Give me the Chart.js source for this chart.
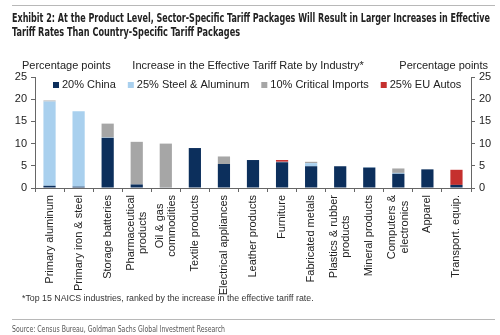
<!DOCTYPE html>
<html>
<head>
<meta charset="utf-8">
<script src="https://cdn.jsdelivr.net/npm/chart.js@4"></script>
<style>
  body { margin: 0; background: #fff; }
  #wrap { position: relative; width: 500px; height: 335px; overflow: hidden; }
  #chart { position: absolute; left: 0; top: 0; }
  .rule { position: absolute; left: 12px; width: 483px; height: 1px; background: #b8b8b8; }
  .fit { position: absolute; white-space: nowrap; transform-origin: 0 0;
    font-family: "Liberation Sans Narrow", "DejaVu Sans Condensed", sans-serif; }
  .title { left: 12px; font-weight: bold; font-size: 13px; color: #222; }
  #note { position: absolute; left: 22px; top: 293px; font-family: "Liberation Sans", Arial, sans-serif;
    font-size: 8.8px; color: #333; }
  #source { left: 12px; top: 323px; font-size: 9.5px; color: #555; }
</style>
</head>
<body>
<div id="wrap">
  <canvas id="chart" width="500" height="335"></canvas>
  <div class="rule" style="top:5px"></div>
  <div class="fit title" style="top:10px" data-w="478">Exhibit 2: At the Product Level, Sector-Specific Tariff Packages Will Result in Larger Increases in Effective</div>
  <div class="fit title" style="top:24px" data-w="228">Tariff Rates Than Country-Specific Tariff Packages</div>
  <div id="note">*Top 15 NAICS industries, ranked by the increase in the effective tariff rate.</div>
  <div class="rule" style="top:319px"></div>
  <div class="fit" id="source" data-w="213">Source: Census Bureau, Goldman Sachs Global Investment Research</div>
</div>
<script>
// squeeze the condensed texts to the widths of the original
document.querySelectorAll(".fit").forEach(el => {
    const w = el.getBoundingClientRect().width;
    el.style.transform = "scaleX(" + (parseFloat(el.dataset.w) / w) + ")";
});

// industries (multi-line labels as arrays)
const industries = [
    ["Primary aluminum"], ["Primary iron & steel"], ["Storage batteries"],
    ["Pharmaceutical", "products"], ["Oil & gas", "commodities"], ["Textile products"],
    ["Electrical appliances"], ["Leather products"], ["Furniture"], ["Fabricated metals"],
    ["Plastics & rubber", "products"], ["Mineral products"], ["Computers &", "electronics"],
    ["Apparel"], ["Transport. equip."]
];

// percentage points
const china20    = [0.5, 0.3, 11.3, 0.8, 0.1, 9.0, 5.4, 6.3, 5.8, 4.9, 4.9, 4.6, 3.2, 4.2, 0.7];
const steelAlu25 = [19.0, 17.0, 0.1, 0, 0, 0, 0, 0, 0.1, 0.7, 0, 0.1, 0.2, 0, 0];
const critical10 = [0.2, 0, 3.1, 9.6, 9.9, 0, 1.7, 0, 0, 0.3, 0, 0, 1.0, 0, 0];
const euAutos25  = [0, 0, 0, 0, 0, 0, 0, 0, 0.4, 0, 0, 0, 0, 0, 3.4];

const yTicks = [0, 5, 10, 15, 20, 25];

const font = "'Liberation Sans', Arial, sans-serif";
const axisColor = "#666";

// draws the header texts, the legend and the x labels
const extrasPlugin = {
    id: "extras",
    afterDraw(chart) {
        const ctx = chart.ctx;
        const area = chart.chartArea;
        ctx.save();
        ctx.fillStyle = "#222";
        ctx.font = "11px " + font;
        ctx.textBaseline = "middle";

        // header row
        ctx.textAlign = "left";
        ctx.fillText("Percentage points", 22, 66);
        ctx.textAlign = "right";
        ctx.fillText("Percentage points", 488, 66);
        ctx.textAlign = "center";
        ctx.fillText("Increase in the Effective Tariff Rate by Industry*", 248, 66);

        // legend
        let x = 53;
        ctx.textAlign = "left";
        chart.data.datasets.forEach(ds => {
            ctx.fillStyle = ds.backgroundColor;
            ctx.fillRect(x, 82, 6, 6);
            ctx.fillStyle = "#222";
            ctx.fillText(ds.label, x + 9, 85);
            x += 9 + ctx.measureText(ds.label).width + 12;
        });

        // rotated category labels, lines centred on each other
        const xScale = chart.scales.x;
        const lh = 12.5;
        industries.forEach((lines, i) => {
            const px = xScale.getPixelForValue(i);
            const maxW = Math.max(...lines.map(l => ctx.measureText(l).width));
            ctx.save();
            ctx.translate(px, area.bottom + 7);
            ctx.rotate(-Math.PI / 2);
            ctx.textAlign = "center";
            lines.forEach((l, j) => {
                ctx.fillText(l, -maxW / 2, (j - (lines.length - 1) / 2) * lh);
            });
            ctx.restore();
        });
        ctx.restore();
    }
};

const yAxisBase = {
    min: 0,
    max: 25,
    grid: { drawOnChartArea: false, tickLength: 4, color: axisColor },
    border: { color: axisColor },
    afterBuildTicks: s => { s.ticks = yTicks.map(v => ({ value: v })); }
};

new Chart(document.getElementById("chart").getContext("2d"), {
    type: "bar",
    data: {
        labels: industries,
        datasets: [
            { label: "20% China", data: china20, backgroundColor: "#0c2f5c" },
            { label: "25% Steel & Aluminum", data: steelAlu25, backgroundColor: "#a9d0ee" },
            { label: "10% Critical Imports", data: critical10, backgroundColor: "#a6a6a6" },
            { label: "25% EU Autos", data: euAutos25, backgroundColor: "#c5302e" }
        ]
    },
    options: {
        responsive: false,
        animation: false,
        layout: { padding: { top: 77, left: 0, right: 0, bottom: 0 } },
        datasets: { bar: { barPercentage: 0.42, categoryPercentage: 1 } },
        plugins: { legend: { display: false }, tooltip: { enabled: false } },
        scales: {
            x: {
                stacked: true,
                grid: { drawOnChartArea: false, tickLength: 4, color: axisColor, offset: true },
                border: { color: axisColor },
                ticks: { display: false },
                afterFit: s => { s.height = 147; }
            },
            y: Object.assign({}, yAxisBase, {
                stacked: true,
                position: "left",
                ticks: { color: "#222", font: { family: font, size: 11 }, padding: 4 },
                afterFit: s => { s.width = 35; }
            }),
            y2: Object.assign({}, yAxisBase, {
                position: "right",
                ticks: { color: "#222", font: { family: font, size: 11 }, padding: 4 },
                afterFit: s => { s.width = 29; }
            })
        }
    },
    plugins: [extrasPlugin]
});
</script>
</body>
</html>
